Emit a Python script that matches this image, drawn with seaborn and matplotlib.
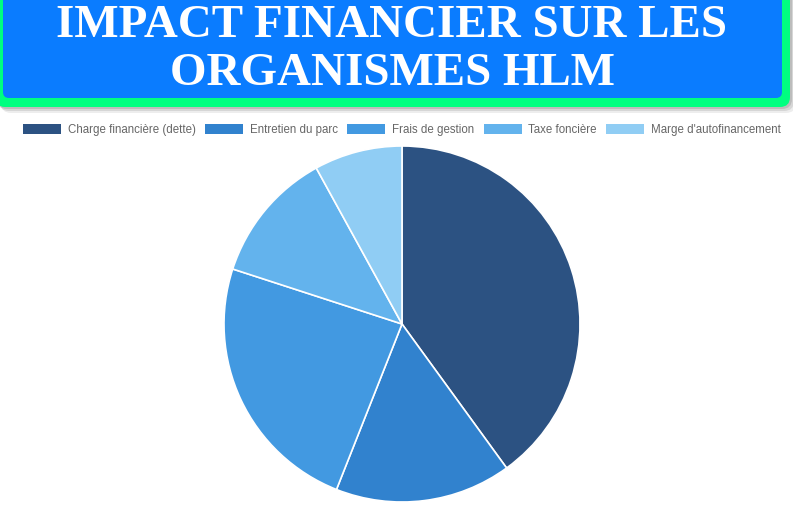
import matplotlib
matplotlib.use('Agg')
import matplotlib.pyplot as plt
import seaborn as sns
from matplotlib.patches import FancyBboxPatch, Patch

# data
categories = ['Charge financière (dette)', 'Entretien du parc', 'Frais de gestion',
              'Taxe foncière', "Marge d'autofinancement"]
values = [40, 16, 24, 12, 8]
colors = ['#2C5282', '#3182CE', '#4299E1', '#63B3ED', '#90CDF4']
title_lines = ['IMPACT FINANCIER SUR LES', 'ORGANISMES HLM']

sns.set_theme(style='white')
plt.rcParams['font.family'] = ['Liberation Sans', 'DejaVu Sans']

W, H = 793, 518
fig = plt.figure(figsize=(W / 100, H / 100), dpi=100)
fig.patch.set_facecolor('white')

# header box drawn in pixel coords
bg = fig.add_axes([0, 0, 1, 1])
bg.set_xlim(0, W)
bg.set_ylim(H, 0)
bg.axis('off')
for off, a in [(6, 0.10), (4, 0.15), (2, 0.2)]:
    bg.add_patch(FancyBboxPatch((-5 + off, -30 + off), 795, 137, boxstyle='round,pad=0,rounding_size=10',
                                facecolor='#555555', edgecolor='none', alpha=a))
bg.add_patch(FancyBboxPatch((-5, -30), 795, 137, boxstyle='round,pad=0,rounding_size=10',
                            facecolor='#00FF80', edgecolor='none'))
bg.add_patch(FancyBboxPatch((3, -30), 779, 128, boxstyle='round,pad=0,rounding_size=6',
                            facecolor='#0A7CFF', edgecolor='none'))
serif = ['Liberation Serif', 'DejaVu Serif']
bg.text(392, 37, title_lines[0], ha='center', va='baseline', color='white', fontsize=33.8,
        fontweight='bold', family=serif)
bg.text(392, 85, title_lines[1], ha='center', va='baseline', color='white', fontsize=33.8,
        fontweight='bold', family=serif)

# pie
cx, cy, r = 402, 324, 178
ax = fig.add_axes([(cx - r) / W, 1 - (cy + r) / H, 2 * r / W, 2 * r / H])
pal = sns.color_palette(colors)
ax.pie(values, colors=pal, startangle=90, counterclock=False, radius=1,
       wedgeprops=dict(edgecolor='white', linewidth=1.2))
ax.set_xlim(-1, 1)
ax.set_ylim(-1, 1)
ax.set_aspect('equal')
ax.axis('off')

handles = [Patch(facecolor=c, edgecolor='none', label=l) for c, l in zip(colors, categories)]
fig.legend(handles=handles, loc='center', bbox_to_anchor=(402 / W, 1 - 130 / H), ncol=5,
           frameon=False, fontsize=8.3, handlelength=3.3, handleheight=1.0,
           handletextpad=0.6, columnspacing=0.8, labelcolor='#666666')

fig.savefig('out.png', dpi=100, facecolor='white')
